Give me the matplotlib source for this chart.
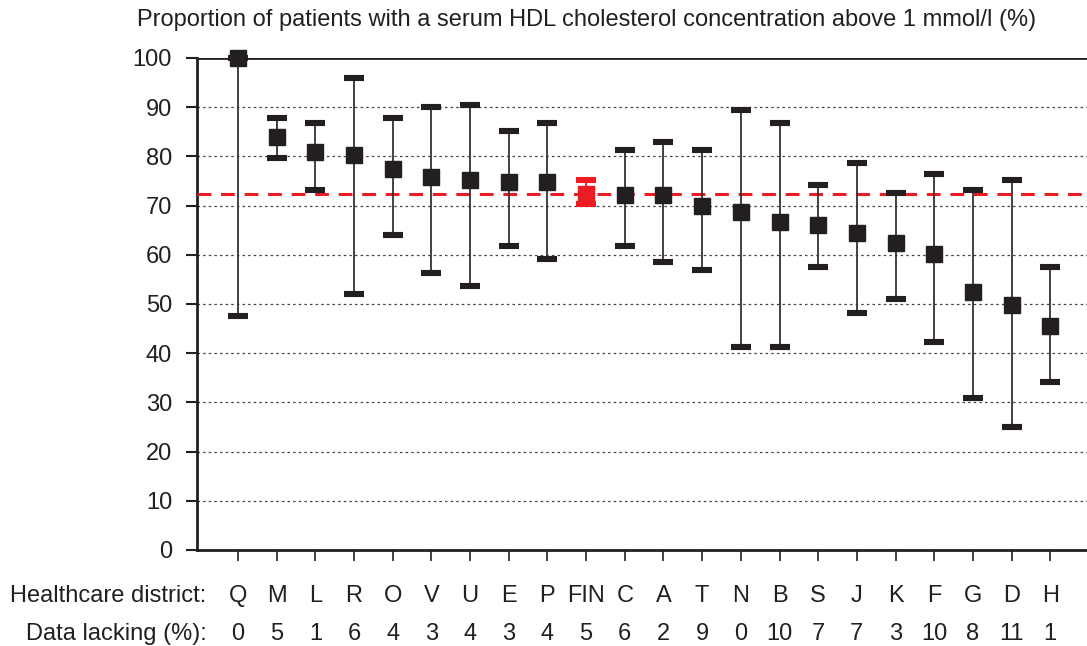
import numpy as np
import matplotlib
matplotlib.use("Agg")
import matplotlib.pyplot as plt
import matplotlib.transforms as mtransforms

plt.rcParams['font.family'] = ['Liberation Sans', 'DejaVu Sans']

# district data
districts = ['Q', 'M', 'L', 'R', 'O', 'V', 'U', 'E', 'P', 'FIN', 'C', 'A', 'T',
             'N', 'B', 'S', 'J', 'K', 'F', 'G', 'D', 'H']
lacking = [0, 5, 1, 6, 4, 3, 4, 3, 4, 5, 6, 2, 9, 0, 10, 7, 7, 3, 10, 8, 11, 1]
mean = [100, 84.0, 80.8, 80.2, 77.5, 75.9, 75.3, 74.8, 74.8, 72.4, 72.1, 72.1,
        69.9, 68.8, 66.6, 66.1, 64.4, 62.3, 60.1, 52.5, 49.8, 45.5]
upper = [100, 87.8, 86.7, 95.9, 87.8, 90.0, 90.5, 85.1, 86.7, 75.3, 81.3, 82.9,
         81.3, 89.4, 86.7, 74.2, 78.6, 72.6, 76.4, 73.2, 75.3, 57.5]
lower = [47.5, 79.7, 73.2, 52.0, 64.0, 56.4, 53.7, 61.8, 59.1, 70.3, 61.8, 58.5,
         56.9, 41.2, 41.2, 57.5, 48.2, 51.0, 42.3, 30.9, 24.9, 34.1]
fin_level = 72.4

black = '#231f20'
red = '#ec1c24'
fs = 17

fig = plt.figure(figsize=(10.87, 6.46), dpi=100)
ax = fig.add_axes([197 / 1087, 1 - 550 / 646, 1 - 197 / 1087, 492 / 646])

x = np.arange(len(districts))
mean = np.array(mean)
yerr = [mean - np.array(lower), np.array(upper) - mean]

for i in x:
    c = red if districts[i] == 'FIN' else black
    cont = ax.errorbar(x[i], mean[i], yerr=[[yerr[0][i]], [yerr[1][i]]], fmt='s',
                       color=c, ecolor=c if c == red else '#333333', elinewidth=1.3,
                       markersize=11.5, capsize=6.9, capthick=4.4, zorder=4)
    cont[0].set_clip_on(False)
    for cap in cont[1]:
        cap.set_color(c)
        cap.set_markeredgecolor(c)
        cap.set_clip_on(False)

ax.axhline(fin_level, color=red, lw=2.2, dashes=(4.5, 3.2), zorder=3)

ax.set_ylim(0, 100)
ax.set_xlim(-1.06, 21.95)
ax.set_yticks(range(0, 101, 10))
ax.tick_params(axis='y', direction='out', length=8, width=1.5, labelsize=fs,
               pad=10, colors=black)
ax.set_xticks(x)
ax.set_xticklabels([])
ax.tick_params(axis='x', direction='out', length=8, width=1.2, colors=black)
for v in range(10, 100, 10):
    ax.axhline(v, color='#444444', lw=0.9, ls=(0, (2, 2.5)), zorder=1)
ax.axhline(100, color=black, lw=2, zorder=2)

for s in ['top', 'right']:
    ax.spines[s].set_visible(False)
for s in ['left', 'bottom']:
    ax.spines[s].set_linewidth(2)
    ax.spines[s].set_color(black)

trans = mtransforms.blended_transform_factory(ax.transData, ax.transAxes)
for i in x:
    ax.text(x[i], -0.093, districts[i], transform=trans, ha='center',
            va='center', fontsize=fs, color=black)
    ax.text(x[i], -0.17, str(lacking[i]), transform=trans, ha='center',
            va='center', fontsize=fs, color=black)
ax.text(-0.82, -0.093, 'Healthcare district:', transform=trans, ha='right',
        va='center', fontsize=fs, color=black)
ax.text(-0.82, -0.17, 'Data lacking (%):', transform=trans, ha='right',
        va='center', fontsize=fs, color=black)

fig.text(587 / 1087, 1 - 20 / 646,
         'Proportion of patients with a serum HDL cholesterol concentration above 1 mmol/l (%)',
         ha='center', va='center', fontsize=fs, color=black)

fig.savefig('out.png', dpi=100)
